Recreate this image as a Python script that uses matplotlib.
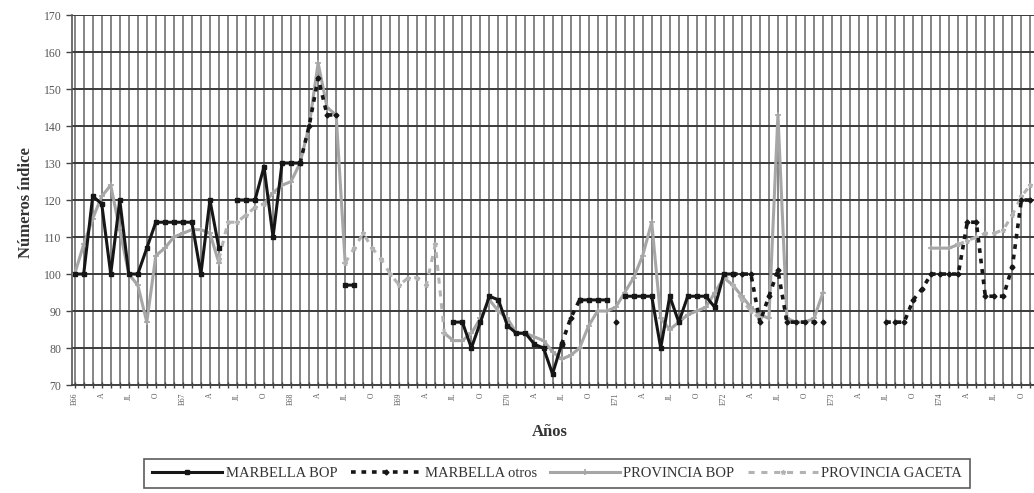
import numpy as np
import matplotlib
matplotlib.use("Agg")
import matplotlib.pyplot as plt

N = None

# ---- data (monthly, index 0 = E66) ----
month_labels = ["E66", "A", "JL", "O", "E67", "A", "JL", "O", "E68", "A", "JL", "O",
                "E69", "A", "JL", "O", "E70", "A", "JL", "O", "E71", "A", "JL", "O",
                "E72", "A", "JL", "O", "E73", "A", "JL", "O", "E74", "A", "JL", "O"]

marbella_bop = [100, 100, 121, 119, 100, 120, 100, 100, 107, 114,
                114, 114, 114, 114, 100, 120, 107, N, 120, 120,
                120, 129, 110, 130, 130, 130, N, N, N, N,
                97, 97, N, N, N, N, N, N, N, N,
                N, N, 87, 87, 80, 87, 94, 93, 86, 84,
                84, 81, 80, 73, 81, N, 93, 93, 93, 93,
                N, 94, 94, 94, 94, 80, 94, 87, 94, 94,
                94, 91, 100, 100, N, N, N, N, N, N,
                N, N, N, N, N, N, N, N, N, N,
                N, N, N, N, N, N, N, N, N, N,
                N, N, N, N, N, N, N]

marbella_otros = [N, N, N, N, N, N, N, N, N, N,
                  N, N, N, N, N, N, N, N, N, N,
                  N, N, N, N, N, 130, 140, 153, 143, 143,
                  N, N, N, N, N, N, N, N, N, N,
                  N, N, N, N, N, N, N, N, N, N,
                  N, N, N, N, 81, 88, 93, N, N, N,
                  87, N, N, N, N, N, N, N, N, N,
                  N, N, N, 100, 100, 100, 87, 94, 101, 87,
                  87, 87, 87, 87, N, N, N, N, N, N,
                  87, 87, 87, 93, 96, 100, 100, 100, 100, 114,
                  114, 94, 94, 94, 102, 120, 120]

provincia_bop = [100, 108, 115, 121, 124, 112, 100, 97, 87, 105,
                 107, 110, 111, 112, 112, 111, 103, N, N, N,
                 N, 119, 122, 124, 125, 130, 140, 157, 145, 143,
                 103, N, N, N, N, N, N, N, N, N,
                 N, 84, 82, 82, 84, 88, 93, 90, 88, 84,
                 84, 83, 82, 79, 77, 78, 80, 86, 90, 90,
                 91, 95, 99, 105, 114, 88, 85, 87, 89, 90,
                 91, 95, 99, 97, 94, 91, 89, 88, 143, 88,
                 87, 87, 88, 95, N, N, N, N, N, N,
                 N, N, N, N, N, 107, 107, 107, 108, N,
                 N, N, N, N, N, N, N]

provincia_gaceta = [N, N, N, N, N, N, N, N, N, N,
                    N, N, N, N, N, N, 104, 114, 114, 116,
                    118, 119, N, N, N, N, N, N, N, N,
                    103, 107, 111, 107, 104, 100, 97, 99, 99, 97,
                    108, 84, N, N, N, N, N, N, N, N,
                    N, N, N, N, N, N, N, N, N, N,
                    N, N, N, N, N, N, N, N, N, N,
                    N, N, 100, 97, 93, 90, 88, N, N, N,
                    N, N, N, N, N, N, N, N, N, N,
                    N, N, N, N, N, N, N, N, 108, 109,
                    110, 111, 111, 112, 116, 121, 124]

series_names = ["MARBELLA BOP", "MARBELLA otros", "PROVINCIA BOP", "PROVINCIA GACETA"]


def arr(v):
    return np.array([np.nan if x is None else x for x in v], dtype=float)


plt.rcParams['font.family'] = ['Liberation Serif', 'DejaVu Serif']

fig = plt.figure(figsize=(10.34, 4.93), dpi=100)
ax = fig.add_axes([0.0696, 0.219, 0.9304, 0.7505])

x = np.arange(len(marbella_bop))

ax.plot(x, arr(provincia_bop), color='#a6a6a6', lw=2.2, marker='+', ms=4, mew=1.2,
        label=series_names[2], zorder=3)
ax.plot(x, arr(provincia_gaceta), color='#b3b3b3', lw=2.2, ls=(0, (2, 2.2)), marker='*',
        ms=3.5, label=series_names[3], zorder=3)
ax.plot(x, arr(marbella_bop), color='#161616', lw=2.2, marker='s', ms=2.5,
        label=series_names[0], zorder=4)
ax.plot(x, arr(marbella_otros), color='#161616', lw=2.6, ls=(0, (1.3, 1.6)), marker='D',
        ms=2.5, label=series_names[1], zorder=4)

ax.set_xlim(-0.3, 106.4)
ax.set_ylim(70, 170)
ax.set_yticks(np.arange(70, 171, 10))

ticks = np.arange(0, 107)
labels = ['' for _ in ticks]
for k in range(0, 107, 3):
    if k // 3 < len(month_labels):
        labels[k] = month_labels[k // 3]
ax.set_xticks(ticks)
ax.set_xticklabels(labels, rotation=90, fontsize=5.5, color='#555555')
ax.tick_params(axis='x', direction='inout', length=5, width=1.0, color='#444444', pad=3)
ax.tick_params(axis='y', direction='out', length=4, width=1.0, color='#444444',
               labelsize=8.5, labelcolor='#555555')

ax.grid(axis='y', color='#3a3a3a', lw=1.4, zorder=1)
ax.grid(axis='x', color='#6a6a6a', lw=1.15, zorder=1)
ax.set_axisbelow(True)

for s in ['top', 'right']:
    ax.spines[s].set_visible(False)
ax.spines['left'].set_color('#555555')
ax.spines['bottom'].set_color('#444444')
ax.spines['left'].set_linewidth(1.2)
ax.spines['bottom'].set_linewidth(1.4)

fig.text(0.532, 0.124, 'Años', ha='center', va='center', fontsize=12, fontweight='bold',
         color='#333333')
fig.text(0.025, 0.59, 'Números índice', ha='center', va='center', rotation=90, fontsize=12,
         fontweight='bold', color='#333333')

handles, labs = ax.get_legend_handles_labels()
order = [2, 3, 0, 1]
leg = fig.legend([handles[i] for i in order], [labs[i] for i in order], ncol=4,
                 loc='center', bbox_to_anchor=(0.539, 0.039), frameon=True, fancybox=False,
                 edgecolor='#333333', fontsize=10.5, handlelength=4.8, handletextpad=0.25,
                 columnspacing=0.9, borderpad=0.55)
leg.get_frame().set_linewidth(1.2)
for t in leg.get_texts():
    t.set_color('#333333')

fig.savefig('out.png', dpi=100)
